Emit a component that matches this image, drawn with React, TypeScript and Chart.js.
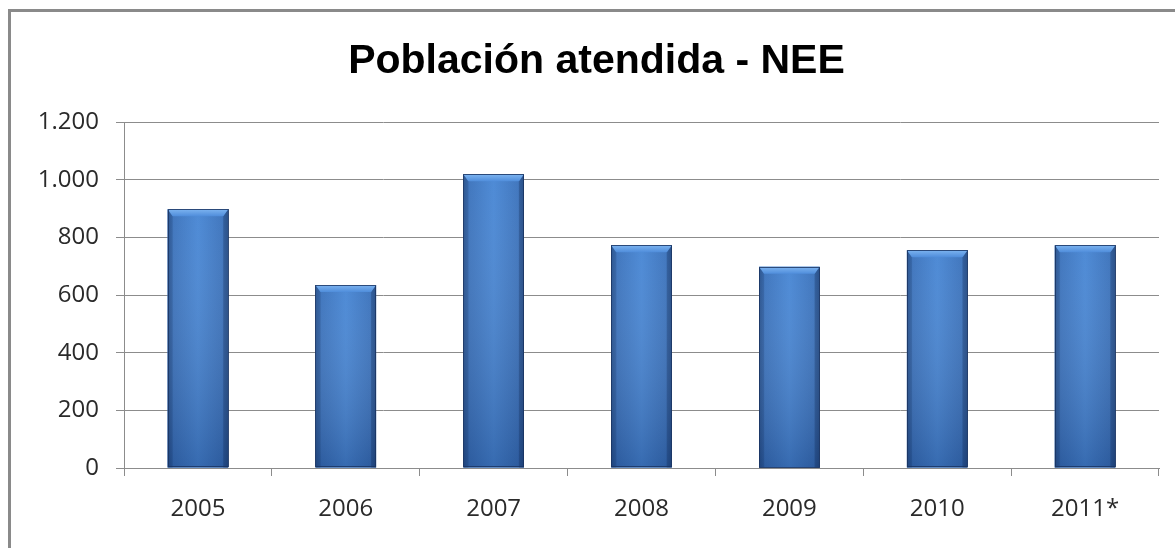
import React, { useEffect, useRef } from "react";
import { Chart, registerables } from "chart.js";

Chart.register(...registerables);

const TITLE = "Población atendida - NEE";
const categories = ["2005", "2006", "2007", "2008", "2009", "2010", "2011*"];
const values = [898, 635, 1019, 773, 698, 756, 773];
const yTicks = [0, 200, 400, 600, 800, 1000, 1200];

const GRID = "#8c8c8c";
const TEXT = "#2a2a2a";

function fmt(v: number): string {
  return String(v).replace(/\B(?=(\d{3})+(?!\d))/g, ".");
}

const bevelBars = {
  id: "bevelBars",
  afterDatasetsDraw(chart: any) {
    const ctx = chart.ctx as CanvasRenderingContext2D;
    const meta = chart.getDatasetMeta(0);
    meta.data.forEach((el: any) => {
      const { x, y, base, width } = el.getProps(["x", "y", "base", "width"], true);
      const x0 = x - width / 2;
      const x1 = x + width / 2;
      const y0 = y;
      const y1 = base;
      const h = y1 - y0;
      ctx.save();
      const hg = ctx.createLinearGradient(x0, 0, x1, 0);
      hg.addColorStop(0, "#2d5a98");
      hg.addColorStop(0.1, "#3a72bc");
      hg.addColorStop(0.5, "#4786d4");
      hg.addColorStop(0.9, "#3a72bc");
      hg.addColorStop(1, "#2d5a98");
      ctx.fillStyle = hg;
      ctx.fillRect(x0, y0, width, h);
      const vg = ctx.createLinearGradient(0, y0, 0, y1);
      vg.addColorStop(0, "rgba(255,255,255,0.04)");
      vg.addColorStop(1, "rgba(5,25,70,0.25)");
      ctx.fillStyle = vg;
      ctx.fillRect(x0, y0, width, h);
      const b = Math.min(7, h / 2);
      const s = 5;
      ctx.fillStyle = "rgba(10,35,80,0.15)";
      ctx.beginPath();
      ctx.moveTo(x0, y0);
      ctx.lineTo(x0 + s, y0 + b);
      ctx.lineTo(x0 + s, y1);
      ctx.lineTo(x0, y1);
      ctx.closePath();
      ctx.fill();
      ctx.fillStyle = "rgba(10,35,80,0.25)";
      ctx.beginPath();
      ctx.moveTo(x1, y0);
      ctx.lineTo(x1 - s, y0 + b);
      ctx.lineTo(x1 - s, y1);
      ctx.lineTo(x1, y1);
      ctx.closePath();
      ctx.fill();
      const tg = ctx.createLinearGradient(0, y0, 0, y0 + b);
      tg.addColorStop(0, "#7db4f0");
      tg.addColorStop(1, "#4f8ddb");
      ctx.fillStyle = tg;
      ctx.beginPath();
      ctx.moveTo(x0, y0);
      ctx.lineTo(x1, y0);
      ctx.lineTo(x1 - s, y0 + b);
      ctx.lineTo(x0 + s, y0 + b);
      ctx.closePath();
      ctx.fill();
      ctx.strokeStyle = "rgba(25,50,95,0.8)";
      ctx.lineWidth = 1;
      ctx.strokeRect(Math.round(x0) + 0.5, Math.round(y0) + 0.5, Math.round(width) - 1, Math.round(h) - 1);
      ctx.restore();
    });
  },
};

export default function App() {
  const ref = useRef<HTMLCanvasElement | null>(null);

  useEffect(() => {
    if (!ref.current) return;
    const chart = new Chart(ref.current, {
      type: "bar",
      data: {
        labels: categories,
        datasets: [
          {
            data: values,
            backgroundColor: "#3b76c4",
            borderWidth: 0,
            barPercentage: 0.41,
            categoryPercentage: 1,
          },
        ],
      },
      options: {
        responsive: false,
        animation: false,
        devicePixelRatio: 1,
        layout: { padding: { left: 34, right: 16, top: 0, bottom: 0 } },
        plugins: {
          legend: { display: false },
          tooltip: { enabled: false },
          title: {
            display: true,
            text: TITLE,
            color: "#000",
            font: { family: "'Liberation Sans', Arial, sans-serif", size: 41, weight: "bold" },
            padding: { top: 37, bottom: 36 },
          },
        },
        scales: {
          x: {
            grid: {
              offset: true,
              drawOnChartArea: false,
              drawTicks: true,
              tickLength: 8,
              color: GRID,
            },
            border: { display: true, color: GRID },
            ticks: {
              color: TEXT,
              font: { family: "'Open Sans', sans-serif", size: 24 },
              padding: 19,
            },
            afterFit: (scale: any) => {
              scale.height = 80;
            },
          },
          y: {
            min: 0,
            max: 1200,
            afterBuildTicks: (scale: any) => {
              scale.ticks = yTicks.map((v) => ({ value: v }));
            },
            grid: {
              color: GRID,
              tickLength: 8,
              drawTicks: true,
            },
            border: { display: true, color: GRID },
            ticks: {
              color: TEXT,
              font: { family: "'Open Sans', sans-serif", size: 24 },
              padding: 17,
              callback: (v: any) => fmt(Number(v)),
            },
            afterFit: (scale: any) => {
              scale.width = 90;
            },
          },
        },
      },
      plugins: [bevelBars],
    });
    return () => chart.destroy();
  }, []);

  return (
    <div
      style={{
        position: "fixed",
        left: 0,
        top: 0,
        width: 1175,
        height: 548,
        overflow: "hidden",
        background: "#fff",
      }}
    >
      <div
        style={{
          position: "absolute",
          left: 8,
          top: 9,
          width: 1300,
          height: 700,
          borderLeft: "3px solid #8a8a8a",
          borderTop: "3px solid #8a8a8a",
          boxSizing: "border-box",
        }}
      />
      <canvas
        ref={ref}
        width={1175}
        height={548}
        style={{ position: "absolute", left: 0, top: 0, width: 1175, height: 548 }}
      />
    </div>
  );
}
